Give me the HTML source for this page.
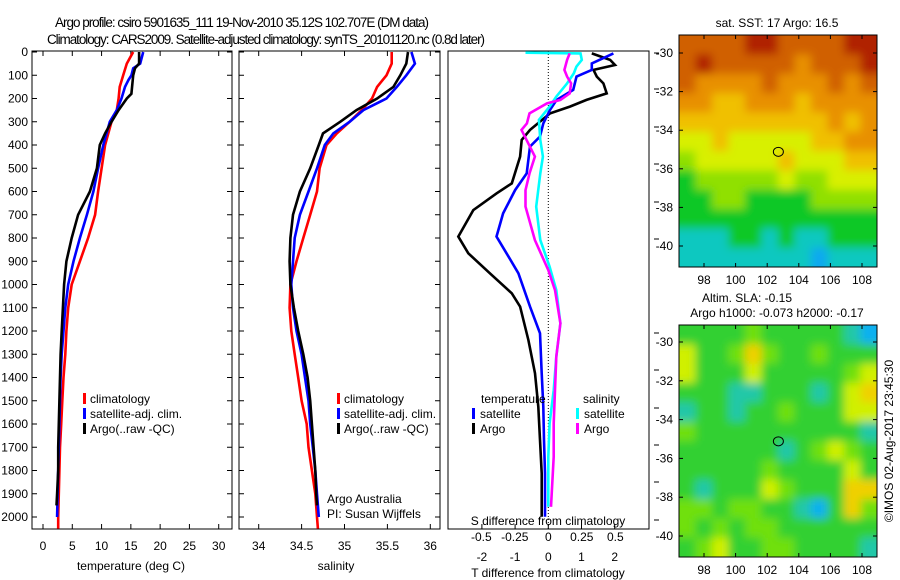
<!DOCTYPE html>
<html><head><meta charset="utf-8"><style>
body{margin:0;background:#fff}
svg{display:block;font-family:"Liberation Sans",sans-serif}
</style></head><body>
<svg id="c" width="900" height="580" viewBox="0 0 900 580" xmlns="http://www.w3.org/2000/svg">
<defs>
<filter id="blur" x="-5%" y="-5%" width="110%" height="110%"><feGaussianBlur stdDeviation="4.5"/></filter>
<clipPath id="clipTop"><rect x="679" y="35" width="198" height="232"/></clipPath>
<clipPath id="clipBot"><rect x="679" y="325" width="198" height="232"/></clipPath>
</defs>
</svg>
<script>
// ---------- data ----------
const tClimDepth=[0,50,100,150,200,250,300,400,500,600,700,800,900,1000,1100,1200,1300,1400,1500,1600,1700,1800,1900,2000,2050];
const tClim=[15.4,14.3,13.7,13.1,12.9,12.6,11.7,10.6,10.0,9.4,8.9,7.7,6.3,4.9,4.3,4.0,3.8,3.5,3.3,3.1,2.9,2.8,2.7,2.6,2.6];
const tSatDepth=[0,50,70,100,120,150,200,250,300,400,500,600,700,800,900,1000,1100,1200,1300,1400,1500,1600,1700,1800,1900,2000];
const tSat=[17.1,16.6,15.4,15.1,14.6,14.0,13.4,12.6,11.4,10.3,9.4,8.6,7.5,6.3,5.2,4.3,3.8,3.5,3.2,3.0,2.9,2.8,2.7,2.6,2.5,2.4];
const tArgoDepth=[0,50,70,100,180,200,250,300,350,400,500,600,700,800,900,1000,1100,1200,1300,1400,1500,1600,1700,1800,1900,1950];
const tArgo=[16.4,16.4,15.7,15.4,15.1,14.3,12.9,11.7,10.6,9.7,9.2,8.0,6.0,4.9,4.0,3.6,3.4,3.2,3.0,2.9,2.8,2.7,2.6,2.6,2.4,2.3];
const sClimDepth=[0,50,100,150,200,250,300,350,400,500,600,700,800,900,1000,1100,1200,1300,1400,1500,1600,1700,1800,1900,2000,2050];
const sClim=[35.55,35.55,35.49,35.38,35.32,35.2,35.06,34.91,34.79,34.71,34.68,34.6,34.52,34.44,34.37,34.36,34.38,34.42,34.46,34.5,34.56,34.58,34.62,34.66,34.68,34.69];
const sSatDepth=[0,50,100,150,200,250,300,350,400,500,600,700,800,900,1000,1100,1200,1300,1400,1500,1600,1700,1800,1900,2000];
const sSat=[35.78,35.82,35.72,35.61,35.49,35.22,35.06,34.87,34.77,34.68,34.58,34.48,34.42,34.4,34.38,34.4,34.44,34.5,34.54,34.58,34.6,34.63,34.66,34.68,34.7];
const sArgoDepth=[0,50,100,150,200,250,300,350,400,500,600,700,800,900,1000,1100,1200,1300,1400,1500,1600,1700,1800,1900,1950];
const sArgo=[35.74,35.72,35.65,35.57,35.38,35.14,34.95,34.75,34.7,34.6,34.48,34.4,34.37,34.36,34.37,34.41,34.46,34.52,34.57,34.6,34.62,34.64,34.66,34.67,34.68];
const dTArgoDepth=[6,34,56,77,106,135,178,206,235,264,335,378,450,565,608,680,794,866,952,1038,1095,1239,1382,1525,1669,1812,1999];
const dTArgo=[1.31,1.86,2.01,1.36,1.46,1.66,1.76,1.15,0.65,0.05,-0.55,-0.80,-0.85,-1.10,-1.56,-2.26,-2.71,-2.41,-1.76,-1.10,-0.85,-0.60,-0.40,-0.30,-0.25,-0.20,-0.20];
const dTSatDepth=[6,49,77,106,163,206,249,307,364,407,522,594,694,794,880,952,1095,1210,1382,1525,1669,1812,1999];
const dTSat=[1.96,1.31,1.31,0.85,0.75,0.25,0.05,-0.15,-0.25,-0.55,-0.65,-1.0,-1.36,-1.56,-1.20,-0.90,-0.55,-0.25,-0.20,-0.15,-0.13,-0.10,-0.10];
const dSSatDepth=[3,6,34,63,92,135,192,235,292,378,450,522,665,809,923,1024,1167,1310,1454,1597,1741,1956];
const dSSat=[-0.17,0.24,0.25,0.21,0.19,0.14,0.06,0.01,-0.07,-0.06,-0.04,-0.06,-0.09,-0.06,0.01,0.06,0.09,0.06,0.04,0.01,0,0];
const dSArgoDepth=[6,34,77,106,135,178,206,221,264,307,335,450,522,594,665,809,938,1024,1167,1310,1454,1597,1741,1956];
const dSArgo=[0.16,0.14,0.12,0.14,0.17,0.16,0.09,-0.01,-0.14,-0.16,-0.20,-0.10,-0.14,-0.17,-0.17,-0.10,0,0.05,0.09,0.06,0.05,0.04,0.04,0.02];
const depthTicks=[0,100,200,300,400,500,600,700,800,900,1000,1100,1200,1300,1400,1500,1600,1700,1800,1900,2000];
const tTicks=[0,5,10,15,20,25,30];
const sTicks=[34,34.5,35,35.5,36];
const dTTicks=[-2,-1,0,1,2];
const dSTicks=[-0.5,-0.25,0,0.25,0.5];
const dSTickLabels=["-0.5","-0.25","0","0.25","0.5"];
const lonTicks=[98,100,102,104,106,108];
const latTicks=[-30,-32,-34,-36,-38,-40];
const sstGrid=[
[8,8,8,8,9,9,8,8,8,8,9,9],[8,9,8,8,8,8,8,7,8,8,8,9],[8,7,7,7,7,8,7,7,7,8,7,8],
[7,7,6,6,7,7,7,6,7,7,7,7],[6,6,6,6,6,6,6,6,6,7,6,7],[5,5,6,5,5,5,5,5,6,6,7,7],
[4,5,5,5,5,5,6,5,5,5,6,6],[3,4,4,4,4,4,5,4,4,5,5,5],[3,3,4,4,3,3,3,3,4,4,4,4],
[3,3,3,3,3,3,3,3,3,3,3,3],[2,2,2,3,3,2,3,2,2,3,3,3],[2,2,2,2,2,2,2,2,1,2,2,2]];
const slaGrid=[
[3,3,3,3,4,3,3,3,3,3,2,1],[5,3,3,4,6,4,3,3,4,3,3,3],[5,3,3,3,5,3,3,3,3,3,4,5],
[3,3,3,2,2,3,3,3,2,3,5,6],[2,3,3,2,3,3,4,3,3,3,5,5],[4,3,3,3,3,3,3,3,3,3,3,2],
[3,3,3,3,3,3,2,3,4,5,4,3],[3,3,3,3,3,4,3,3,3,3,5,3],[3,2,3,3,3,5,4,3,3,3,6,6],
[4,4,3,4,4,3,3,2,1,3,6,4],[4,3,4,3,4,4,3,3,3,3,3,3],[3,4,5,3,3,4,4,3,3,3,3,2]];
const floatLon=102.707, floatLat=-35.12;
const palette=["#000","#10a8f0","#10c8c0","#08c828","#90e000","#d8f000","#f0c000","#e89000","#d06000","#b02000"];
const slaPalette=["#000","#10b0f0","#20c8a8","#30d030","#70e010","#d0f000","#f0d000","#e89010","#c86008","#a83000"];

// ---------- helpers ----------
const svg=document.getElementById('c');
const NS='http://www.w3.org/2000/svg';
function el(tag,attrs,parent){const e=document.createElementNS(NS,tag);for(const k in attrs)e.setAttribute(k,attrs[k]);(parent||svg).appendChild(e);return e;}
function txt(s,x,y,anchor,size,parent,extra){const t=el('text',Object.assign({x:x,y:y,'text-anchor':anchor||'middle','font-size':size||12,fill:'#000'},extra||{}),parent);t.textContent=s;return t;}
const yD=d=>52+d*0.2325;
const xT=v=>43+v*5.857;
const xS=v=>258.7+(v-34)*85.8;
const xDT=v=>548.3+v*33.2;
const xDS=v=>548.3+v*134;
function line(xs,ds,fx,color,name,parent){
  let p='';for(let i=0;i<xs.length;i++){p+=(i?'L':'M')+fx(xs[i]).toFixed(1)+','+yD(ds[i]).toFixed(1);}
  const e=el('path',{d:p,fill:'none',stroke:color,'stroke-width':2.6,'stroke-linejoin':'miter'},parent);
  
  
}
function frame(x0,x1,name){
  const g=el('g',{});
  
  
  el('rect',{x:x0,y:51,width:x1-x0,height:478,fill:'none',stroke:'#000','stroke-width':1},g);
  return g;
}

// ---------- titles ----------
const t1=txt('Argo profile: csiro 5901635_111 19-Nov-2010 35.12S 102.707E (DM data)',242,27,'middle',13.5);
t1.setAttribute('textLength',374);


const t2=txt('Climatology: CARS2009. Satellite-adjusted climatology: synTS_20101120.nc (0.8d later)',266,44,'middle',13.5);
t2.setAttribute('textLength',438);



// ---------- panel 1: temperature ----------
const g1=frame(32,232,'temperature-panel');
depthTicks.forEach(d=>{el('line',{x1:32,x2:37,y1:yD(d),y2:yD(d),stroke:'#000'},g1);el('line',{x1:227,x2:232,y1:yD(d),y2:yD(d),stroke:'#000'},g1);
  const l=txt(String(d),28,yD(d)+4,'end',12,g1);});
tTicks.forEach(v=>{el('line',{x1:xT(v),x2:xT(v),y1:529,y2:524,stroke:'#000'},g1);el('line',{x1:xT(v),x2:xT(v),y1:51,y2:56,stroke:'#000'},g1);
  const l=txt(String(v),xT(v),550,'middle',12,g1);});
const xl1=txt('temperature (deg C)',131,570,'middle',12,g1);
line(tClim,tClimDepth,xT,'#ff0000','temperature-climatology-line',g1);
line(tSat,tSatDepth,xT,'#0000ff','temperature-satellite-line',g1);
line(tArgo,tArgoDepth,xT,'#000000','temperature-argo-line',g1);
function legend(x,y,items,parent,name){
  const g=el('g',{},parent);
  
  
  items.forEach((it,i)=>{el('rect',{x:x,y:y+i*15-10,width:3,height:11,fill:it[1]},g);txt(it[0],x+7,y+i*15,'start',12,g);});
}
const legItems=[['climatology','#ff0000'],['satellite-adj. clim.','#0000ff'],['Argo(..raw -QC)','#000']];
legend(83,403,legItems,g1,'temperature-legend');

// ---------- panel 2: salinity ----------
const g2=frame(239,440,'salinity-panel');
depthTicks.forEach(d=>{el('line',{x1:239,x2:244,y1:yD(d),y2:yD(d),stroke:'#000'},g2);el('line',{x1:435,x2:440,y1:yD(d),y2:yD(d),stroke:'#000'},g2);});
sTicks.forEach(v=>{el('line',{x1:xS(v),x2:xS(v),y1:529,y2:524,stroke:'#000'},g2);el('line',{x1:xS(v),x2:xS(v),y1:51,y2:56,stroke:'#000'},g2);
  const l=txt(String(v),xS(v),550,'middle',12,g2);});
const xl2=txt('salinity',336,570,'middle',12,g2);
line(sClim,sClimDepth,xS,'#ff0000','salinity-climatology-line',g2);
line(sSat,sSatDepth,xS,'#0000ff','salinity-satellite-line',g2);
line(sArgo,sArgoDepth,xS,'#000000','salinity-argo-line',g2);
legend(337,403,legItems,g2,'salinity-legend');
const a1=txt('Argo Australia',327,503,'start',12,g2);
const a2=txt('PI: Susan Wijffels',327,518,'start',12,g2);

// ---------- panel 3: differences ----------
const g3=frame(448,649,'difference-panel');
const rightTickYs=[53,89,127,164,202,239,333,370,408,445,482,520];
rightTickYs.forEach(y=>{el('line',{x1:654,x2:659,y1:y,y2:y,stroke:'#000'},g3);});
el('line',{x1:548.3,x2:548.3,y1:51,y2:529,stroke:'#000','stroke-dasharray':'1,2'},g3);
dTTicks.forEach(v=>{el('line',{x1:xDT(v),x2:xDT(v),y1:529,y2:524,stroke:'#000'},g3);
  const l=txt(String(v),xDT(v),561,'middle',12,g3);});
dSTicks.forEach((v,i)=>{const l=txt(dSTickLabels[i],xDS(v),541,'middle',12,g3);});
line(dTArgo,dTArgoDepth,xDT,'#000000','t-diff-argo-line',g3);
line(dTSat,dTSatDepth,xDT,'#0000ff','t-diff-satellite-line',g3);
line(dSSat,dSSatDepth,xDS,'#00ffff','s-diff-satellite-line',g3);
line(dSArgo,dSArgoDepth,xDS,'#ff00ff','s-diff-argo-line',g3);
const sdt=txt('S difference from climatology',548,525,'middle',12,g3);
const tdt=txt('T difference from climatology',548,577,'middle',12,g3);
const lg3=el('g',{},g3);


txt('temperature',481,403,'start',12,lg3);txt('salinity',583,403,'start',12,lg3);
[['satellite','#0000ff',472],['Argo','#000',472]].forEach((it,i)=>{el('rect',{x:it[2],y:408+i*15,width:3,height:11,fill:it[1]},lg3);txt(it[0],it[2]+8,418+i*15,'start',12,lg3);});
[['satellite','#00ffff',576],['Argo','#ff00ff',576]].forEach((it,i)=>{el('rect',{x:it[2],y:408+i*15,width:3,height:11,fill:it[1]},lg3);txt(it[0],it[2]+8,418+i*15,'start',12,lg3);});

// ---------- maps ----------
function map(top,bottom,grid,pal,name,lat30Y,latStep,clipId){
  const x0=679,x1=877;
  const g=el('g',{});
  
  
  const lonX=l=>704+(l-98)*15.8;
  const latY=l=>lat30Y+(-30-l)*latStep;
  const rows=grid.length,cols=grid[0].length;
  const cw=(x1-x0)/cols,ch=(bottom-top)/rows;
  const clipG=el('g',{'clip-path':'url(#'+clipId+')'},g);
  const cellsG=el('g',{filter:'url(#blur)'},clipG);
  grid.forEach((row,r)=>row.forEach((v,c)=>{
    let x=x0+c*cw,y=top+r*ch,w=cw+0.6,h=ch+0.6;
    if(c===0){x-=14;w+=14;} if(c===cols-1){w+=14;}
    if(r===0){y-=14;h+=14;} if(r===rows-1){h+=14;}
    const cell=el('rect',{x:x.toFixed(2),y:y.toFixed(2),width:w.toFixed(2),height:h.toFixed(2),fill:pal[v]},cellsG);
    
    
  }));
  el('rect',{x:x0,y:top,width:x1-x0,height:bottom-top,fill:'none',stroke:'#000'},g);
  lonTicks.forEach(l=>{el('line',{x1:lonX(l),x2:lonX(l),y1:top,y2:top+4,stroke:'#000'},g);el('line',{x1:lonX(l),x2:lonX(l),y1:bottom,y2:bottom-4,stroke:'#000'},g);
    txt(String(l),lonX(l),bottom+17,'middle',12,g);});
  latTicks.forEach(l=>{el('line',{x1:x0,x2:x0+4,y1:latY(l),y2:latY(l),stroke:'#000'},g);el('line',{x1:x1,x2:x1-4,y1:latY(l),y2:latY(l),stroke:'#000'},g);
    txt(String(l),673,latY(l)+4,'end',12,g);});
  const m=el('ellipse',{cx:lonX(floatLon),cy:latY(floatLat),rx:5,ry:4.5,fill:'none',stroke:'#000','stroke-width':1},g);
  
  
  return g;
}
map(35,267,sstGrid,palette,'sst-map',53,19.3,'clipTop');
map(325,557,slaGrid,slaPalette,'sla-map',342,19.4,'clipBot');
const mt1=txt('sat. SST: 17 Argo: 16.5',777,27,'middle',12);
const mt2=txt('Altim. SLA: -0.15',747,302,'middle',12);
const mt3=txt('Argo h1000: -0.073 h2000: -0.17',777,317,'middle',12);
const cr=txt('©IMOS 02-Aug-2017 23:45:30',0,0,'middle',12,null,{transform:'translate(893,441) rotate(-90)'});


</script>
</body></html>
